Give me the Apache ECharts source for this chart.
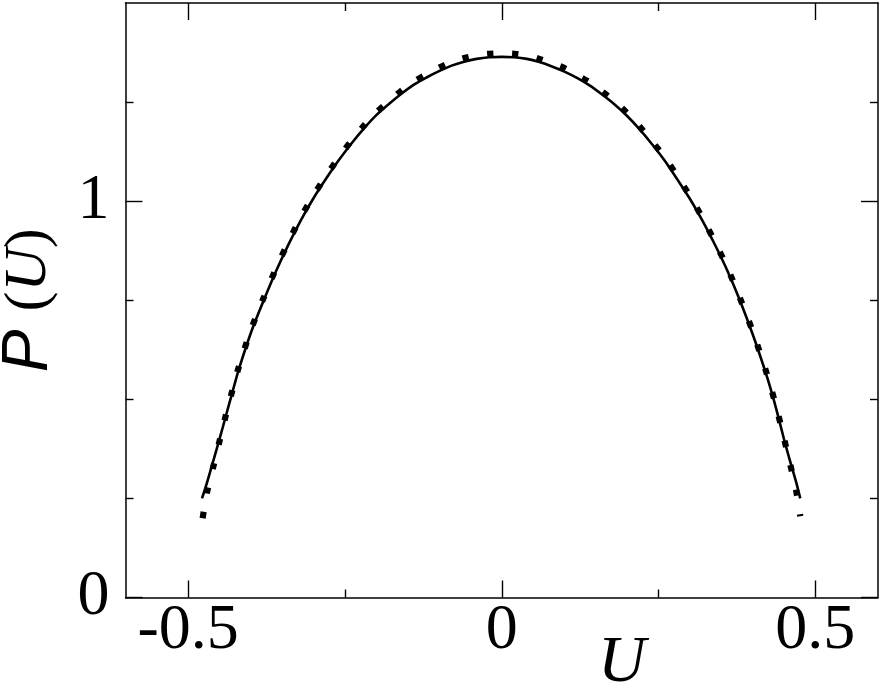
<!DOCTYPE html>
<html>
<head>
<meta charset="utf-8">
<script src="https://cdn.jsdelivr.net/npm/echarts@6/dist/echarts.min.js"></script>
<style>
html,body{margin:0;padding:0;background:#fff;}
#chart{width:881px;height:691px;}
</style>
</head>
<body>
<div id="chart"></div>
<script>
// ---- data ----
const solidU = [-0.478,-0.47,-0.46,-0.45,-0.44,-0.43,-0.42,-0.40,-0.38,-0.36,-0.34,-0.32,-0.30,-0.28,-0.26,-0.24,-0.22,-0.20,-0.18,-0.16,-0.14,-0.12,-0.10,-0.08,-0.06,-0.04,-0.02,0,
  0.02,0.04,0.06,0.08,0.10,0.12,0.14,0.16,0.18,0.20,0.22,0.24,0.26,0.28,0.30,0.32,0.34,0.36,0.38,0.40,0.42,0.43,0.44,0.45,0.46,0.47,0.476];
const solidP = [0.25,0.29,0.345,0.40,0.458,0.515,0.572,0.668,0.748,0.823,0.891,0.953,1.008,1.057,1.103,1.145,1.183,1.217,1.245,1.271,1.294,1.312,1.328,1.342,1.352,1.359,1.363,1.364,
  1.363,1.359,1.351,1.340,1.327,1.311,1.292,1.269,1.244,1.215,1.181,1.143,1.102,1.055,1.006,0.951,0.890,0.824,0.749,0.665,0.572,0.520,0.462,0.40,0.343,0.288,0.25];
const dottedU = [-0.477,-0.47,-0.46,-0.45,-0.44,-0.43,-0.42,-0.40,-0.38,-0.36,-0.34,-0.32,-0.30,-0.28,-0.26,-0.24,-0.22,-0.20,-0.18,-0.16,-0.14,-0.12,-0.10,-0.08,-0.06,-0.04,-0.02,0,
  0.02,0.04,0.06,0.08,0.10,0.12,0.14,0.16,0.18,0.20,0.22,0.24,0.26,0.28,0.30,0.32,0.34,0.36,0.38,0.40,0.42,0.43,0.44,0.45,0.46,0.47,0.476];
const dottedP = [0.20,0.265,0.33,0.395,0.46,0.52,0.578,0.675,0.755,0.83,0.898,0.96,1.015,1.064,1.11,1.152,1.19,1.224,1.252,1.279,1.302,1.320,1.337,1.351,1.361,1.368,1.372,1.373,
  1.372,1.368,1.359,1.348,1.336,1.318,1.300,1.277,1.252,1.222,1.188,1.150,1.110,1.063,1.013,0.958,0.897,0.831,0.755,0.672,0.578,0.525,0.467,0.402,0.336,0.265,0.205];
const xMajorTicks = [-0.5, 0, 0.5];
const xMajorLabels = ['-0.5', '0', '0.5'];
const xMinorTicks = [-0.25, 0.25];
const yMajorTicks = [0, 1];
const yMajorLabels = ['0', '1'];
const yMinorTicks = [0.25, 0.5, 0.75, 1.25];

const SERIF = 'Liberation Serif';
const SANS = 'Liberation Sans';
const solidData = solidU.map((u, i) => [u, solidP[i]]);
const dottedData = dottedU.map((u, i) => [u, dottedP[i]]);

function xAx(pos, ticks, len, line, labels) {
  return {
    type: 'value', position: pos, min: -0.6, max: 0.6,
    axisLine: { show: line, onZero: false, lineStyle: { color: '#000', width: 1.5 } },
    axisTick: { show: true, inside: true, length: len, customValues: ticks, lineStyle: { color: '#000', width: 1.4 } },
    axisLabel: labels ? {
      show: true, customValues: xMajorTicks, margin: 2, color: '#000',
      fontFamily: SERIF, fontSize: 64,
      formatter: v => { const k = xMajorTicks.findIndex(t => Math.abs(t - v) < 1e-9); return k >= 0 ? xMajorLabels[k] : ''; }
    } : { show: false },
    splitLine: { show: false }
  };
}
function yAx(pos, ticks, len, line, labels) {
  return {
    type: 'value', position: pos, min: 0, max: 1.5,
    axisLine: { show: line, onZero: false, lineStyle: { color: '#000', width: 1.5 } },
    axisTick: { show: true, inside: true, length: len, customValues: ticks, lineStyle: { color: '#000', width: 1.4 } },
    axisLabel: labels ? {
      show: true, customValues: yMajorTicks, margin: 16, color: '#000',
      fontFamily: SERIF, fontSize: 64,
      formatter: v => { const k = yMajorTicks.findIndex(t => Math.abs(t - v) < 1e-9); return k >= 0 ? yMajorLabels[k] : ''; }
    } : { show: false },
    splitLine: { show: false }
  };
}

const xs = [
  xAx('bottom', xMajorTicks, 17, true, true),
  xAx('bottom', xMinorTicks, 8, false, false),
  xAx('top', xMajorTicks, 17, true, false),
  xAx('top', xMinorTicks, 8, false, false)
];
xs[0].name = 'U';
xs[0].nameLocation = 'middle';
xs[0].nameGap = 33;
xs[0].nameMoveOverlap = false;
xs[0].nameTextStyle = { fontFamily: SERIF, fontStyle: 'italic', fontSize: 66, color: '#000', padding: [0, 0, 0, 240] };

const ys = [
  yAx('left', yMajorTicks, 17, true, true),
  yAx('left', yMinorTicks, 8, false, false),
  yAx('right', yMajorTicks, 17, true, false),
  yAx('right', yMinorTicks, 8, false, false)
];
ys[0].name = '{p|P}{g|\u00a0}{b|(}{u|U}{b|)}';
ys[0].nameLocation = 'middle';
ys[0].nameRotate = 90;
ys[0].nameGap = 64;
ys[0].nameMoveOverlap = false;
ys[0].nameTextStyle = {
  color: '#000',
  rich: {
    p: { fontFamily: SANS, fontStyle: 'italic', fontSize: 64, color: '#000' },
    g: { fontFamily: SERIF, fontSize: 60, width: 18, color: '#000' },
    b: { fontFamily: SERIF, fontSize: 60, color: '#000' },
    u: { fontFamily: SERIF, fontStyle: 'italic', fontSize: 60, color: '#000' }
  }
};

const chart = echarts.init(document.getElementById('chart'), null, { renderer: 'canvas' });
chart.setOption({
  animation: false,
  backgroundColor: '#fff',
  grid: { left: 125.5, top: 3, right: 3, bottom: 93.5, containLabel: false, outerBoundsMode: 'none' },
  xAxis: xs,
  yAxis: ys,
  series: [
    {
      type: 'line', xAxisIndex: 0, yAxisIndex: 0, data: solidData,
      showSymbol: false, smooth: 0.3,
      lineStyle: { color: '#000', width: 2.6 }
    },
    {
      type: 'line', xAxisIndex: 0, yAxisIndex: 0, data: dottedData,
      showSymbol: false, smooth: 0.3,
      lineStyle: { color: '#000', width: 6.2, type: [6.5, 18.5], cap: 'butt' }
    }
  ]
});
</script>
</body>
</html>
